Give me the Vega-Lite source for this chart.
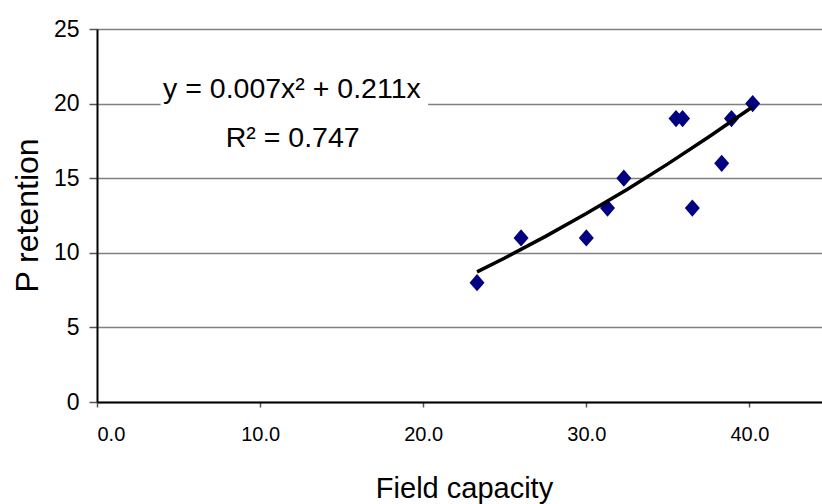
{
  "$schema": "https://vega.github.io/schema/vega-lite/v6.json",
  "width": 725,
  "height": 373,
  "autosize": {"type": "none"},
  "padding": {"left": 97, "top": 29, "right": 0, "bottom": 102},
  "background": "white",
  "config": {
    "view": {"stroke": null},
    "font": "Liberation Sans"
  },
  "datasets": {
    "points": [
      {"fc": 23.3, "pr": 8},
      {"fc": 26.0, "pr": 11},
      {"fc": 30.0, "pr": 11},
      {"fc": 31.3, "pr": 13},
      {"fc": 32.3, "pr": 15},
      {"fc": 35.5, "pr": 19},
      {"fc": 35.9, "pr": 19},
      {"fc": 36.5, "pr": 13},
      {"fc": 38.3, "pr": 16},
      {"fc": 38.9, "pr": 19},
      {"fc": 40.2, "pr": 20}
    ],
    "trend": [
      {"fc": 23.3, "pr": 8.72},
      {"fc": 25.0, "pr": 9.65},
      {"fc": 27.5, "pr": 11.10},
      {"fc": 30.0, "pr": 12.63},
      {"fc": 32.5, "pr": 14.25},
      {"fc": 35.0, "pr": 15.96},
      {"fc": 37.5, "pr": 17.76},
      {"fc": 40.2, "pr": 19.79}
    ],
    "box": [{"x1": 3.9, "x2": 20.3, "y1": 16.5, "y2": 23}],
    "labels": [
      {"fc": 11.95, "pr": 20.37, "t": "y = 0.007x² + 0.211x"},
      {"fc": 12.0, "pr": 17.06, "t": "R² = 0.747"}
    ]
  },
  "layer": [
    {
      "data": {"name": "points"},
      "mark": {"type": "point", "shape": "M0,-1.15L1,0L0,1.15L-1,0Z", "filled": true, "size": 225, "color": "#000080", "opacity": 1, "strokeWidth": 0},
      "encoding": {
        "x": {
          "field": "fc", "type": "quantitative",
          "scale": {"domain": [0, 44.45], "nice": false, "zero": false},
          "axis": {
            "title": "Field capacity",
            "values": [0, 10, 20, 30, 40],
            "format": ".1f",
            "grid": false,
            "domainColor": "black", "domainWidth": 2,
            "tickColor": "#555", "tickSize": 5, "tickWidth": 1.5,
            "labelFont": "Liberation Sans", "labelFontSize": 20, "labelColor": "black",
            "labelPadding": 17,
            "titleFont": "Liberation Sans", "titleFontSize": 29, "titleFontWeight": "normal", "titleColor": "black",
            "titleX": 367, "titleY": 95, "titleBaseline": "alphabetic", "titleAnchor": null
          }
        },
        "y": {
          "field": "pr", "type": "quantitative",
          "scale": {"domain": [0, 25], "nice": false},
          "axis": {
            "title": "P retention",
            "values": [0, 5, 10, 15, 20, 25],
            "grid": true, "gridColor": "#808080", "gridWidth": 1.5,
            "domainColor": "black", "domainWidth": 2,
            "tickColor": "#555", "tickSize": 8, "tickWidth": 1.5,
            "labelFont": "Liberation Sans", "labelFontSize": 23, "labelColor": "black",
            "labelPadding": 10,
            "titleFont": "Liberation Sans", "titleFontSize": 32, "titleFontWeight": "normal", "titleColor": "black",
            "titleAngle": -90, "titleX": -60, "titleY": 186, "titleBaseline": "alphabetic", "titleAlign": "center"
          }
        }
      }
    },
    {
      "data": {"name": "trend"},
      "mark": {"type": "line", "color": "black", "strokeWidth": 3.5},
      "encoding": {
        "x": {"field": "fc", "type": "quantitative"},
        "y": {"field": "pr", "type": "quantitative"}
      }
    },
    {
      "data": {"name": "box"},
      "mark": {"type": "rect", "color": "white"},
      "encoding": {
        "x": {"field": "x1", "type": "quantitative"},
        "x2": {"field": "x2"},
        "y": {"field": "y1", "type": "quantitative"},
        "y2": {"field": "y2"}
      }
    },
    {
      "data": {"name": "labels"},
      "mark": {"type": "text", "font": "Liberation Sans", "fontSize": 28.5, "color": "black", "align": "center", "baseline": "alphabetic"},
      "encoding": {
        "x": {"field": "fc", "type": "quantitative"},
        "y": {"field": "pr", "type": "quantitative"},
        "text": {"field": "t"}
      }
    }
  ]
}
